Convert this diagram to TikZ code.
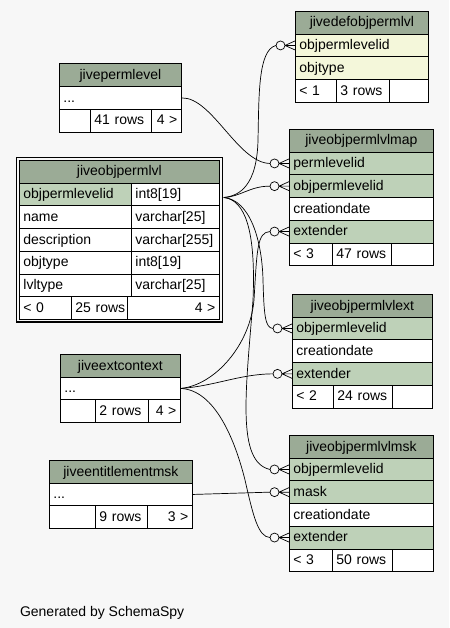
\documentclass[tikz,border=0pt]{standalone}
\usepackage{fontspec}
\setmainfont{Liberation Sans}
\definecolor{bgcol}{HTML}{F7F7F7}
\definecolor{headcol}{HTML}{9BAB96}
\definecolor{keycol}{HTML}{BED1B8}
\definecolor{implcol}{HTML}{F4F7DA}

\tikzset{
    cell/.style={draw, fill=white, line width=0.8pt, anchor=north west,
        inner xsep=4pt, inner ysep=0pt, minimum height=22.7pt,
        text height=10.5pt, text depth=2pt, align=left, text width=#1},
    tblhead/.style={fill=headcol, align=center},
    keyrow/.style={fill=keycol},
    implrow/.style={fill=implcol},
    count/.style={align=right},
    rel/.style={line width=0.7pt},
    crowodot/.pic={
        \draw[line width=0.7pt] (-10,0) -- (0,-4.5) (-10,0) -- (0,0) (-10,0) -- (0,4.5);
        \draw[line width=0.7pt, fill=bgcol] (-14.5,0) circle[radius=4.5pt];
    }
}

\begin{document}
\begin{tikzpicture}[x=1pt, y=-1pt, font=\fontsize{14}{16}\selectfont]
    \fill[bgcol] (0,0) rectangle (449,628);
    \useasboundingbox (0,0) rectangle (449,628);

    % jivedefobjpermlvl
    \node[cell=125pt, tblhead] (def) at (295,11) {jivedefobjpermlvl};
    \node[cell=125pt, implrow] (def-objpermlevelid) at (295,33.7) {objpermlevelid};
    \node[cell=125pt, implrow] (def-objtype) at (295,56.4) {objtype};
    \node[cell=33pt] (def-f1) at (295,79.1) {< 1};
    \node[cell=45pt] (def-f2) at (336,79.1) {3 rows};
    \node[cell=31pt] (def-f3) at (389,79.1) {};

    % jivepermlevel
    \node[cell=114pt, tblhead] (perm) at (59,63.5) {jivepermlevel};
    \node[cell=114pt] (perm-dots) at (59,86.2) {...};
    \node[cell=23pt] (perm-f1) at (59,108.9) {};
    \node[cell=53pt] (perm-f2) at (90,108.9) {41 rows};
    \node[cell=22pt, count] (perm-f3) at (151,108.9) {4 >};

    % jiveobjpermlvl
    \node[cell=192pt, tblhead] (obj) at (19,160) {jiveobjpermlvl};
    \node[cell=104pt, keyrow] (obj-objpermlevelid) at (19,182.7) {objpermlevelid};
    \node[cell=80pt] (obj-objpermlevelid-type) at (131,182.7) {int8[19]};
    \node[cell=104pt] (obj-name) at (19,205.4) {name};
    \node[cell=80pt] (obj-name-type) at (131,205.4) {varchar[25]};
    \node[cell=104pt] (obj-description) at (19,228.1) {description};
    \node[cell=80pt] (obj-description-type) at (131,228.1) {varchar[255]};
    \node[cell=104pt] (obj-objtype) at (19,250.8) {objtype};
    \node[cell=80pt] (obj-objtype-type) at (131,250.8) {int8[19]};
    \node[cell=104pt] (obj-lvltype) at (19,273.5) {lvltype};
    \node[cell=80pt] (obj-lvltype-type) at (131,273.5) {varchar[25]};
    \node[cell=44pt] (obj-f1) at (19,296.2) {< 0};
    \node[cell=52pt, inner xsep=2pt] (obj-f2) at (71,296.2) {\hspace{2pt}25 rows};
    \node[cell=84pt, count] (obj-f3) at (127,296.2) {4 >};
    \draw[line width=1.6pt] ([shift={(-2.5,-2.5)}]obj.north west) rectangle ([shift={(2.5,2.5)}]obj-f3.south east);

    % jiveobjpermlvlmap
    \node[cell=136pt, tblhead] (map) at (289,129) {jiveobjpermlvlmap};
    \node[cell=136pt, keyrow] (map-permlevelid) at (289,151.7) {permlevelid};
    \node[cell=136pt, keyrow] (map-objpermlevelid) at (289,174.4) {objpermlevelid};
    \node[cell=136pt] (map-creationdate) at (289,197.1) {creationdate};
    \node[cell=136pt, keyrow] (map-extender) at (289,219.8) {extender};
    \node[cell=35pt] (map-f1) at (289,242.5) {< 3};
    \node[cell=51pt] (map-f2) at (332,242.5) {47 rows};
    \node[cell=34pt] (map-f3) at (391,242.5) {};

    % jiveobjpermlvlext
    \node[cell=132pt, tblhead] (ext) at (292,294) {jiveobjpermlvlext};
    \node[cell=132pt, keyrow] (ext-objpermlevelid) at (292,316.7) {objpermlevelid};
    \node[cell=132pt] (ext-creationdate) at (292,339.4) {creationdate};
    \node[cell=132pt, keyrow] (ext-extender) at (292,362.1) {extender};
    \node[cell=33pt] (ext-f1) at (292,384.8) {< 2};
    \node[cell=51pt] (ext-f2) at (333,384.8) {24 rows};
    \node[cell=32pt] (ext-f3) at (392,384.8) {};

    % jiveextcontext
    \node[cell=112pt, tblhead] (ctx) at (60,354) {jiveextcontext};
    \node[cell=112pt] (ctx-dots) at (60,376.7) {...};
    \node[cell=27pt] (ctx-f1) at (60,399.4) {};
    \node[cell=45pt] (ctx-f2) at (95,399.4) {2 rows};
    \node[cell=24pt, count] (ctx-f3) at (148,399.4) {4 >};

    % jiveobjpermlvlmsk
    \node[cell=136pt, tblhead] (msk) at (289,435) {jiveobjpermlvlmsk};
    \node[cell=136pt, keyrow] (msk-objpermlevelid) at (289,457.7) {objpermlevelid};
    \node[cell=136pt, keyrow] (msk-mask) at (289,480.4) {mask};
    \node[cell=136pt] (msk-creationdate) at (289,503.1) {creationdate};
    \node[cell=136pt, keyrow] (msk-extender) at (289,525.8) {extender};
    \node[cell=35pt] (msk-f1) at (289,548.5) {< 3};
    \node[cell=52pt] (msk-f2) at (332,548.5) {50 rows};
    \node[cell=33pt] (msk-f3) at (392,548.5) {};

    % jiveentitlementmsk
    \node[cell=135pt, tblhead] (ent) at (49,460) {jiveentitlementmsk};
    \node[cell=135pt] (ent-dots) at (49,482.7) {...};
    \node[cell=38pt] (ent-f1) at (49,505.4) {};
    \node[cell=44pt] (ent-f2) at (95,505.4) {9 rows};
    \node[cell=37pt, count] (ent-f3) at (147,505.4) {3 >};

    % relationships
    \coordinate (obj-port) at ([xshift=4pt, yshift=-3pt]obj-objpermlevelid-type.east);
    \draw[rel] (obj-port) .. controls (240,196) and (257,185) .. (258,140)
        .. controls (259,95) and (258,50) .. ([xshift=-19pt]def-objpermlevelid.west);
    \draw[rel] (obj-port) .. controls (240,197) and (250,186) .. ([xshift=-19pt]map-objpermlevelid.west);
    \draw[rel] (obj-port) .. controls (250,200) and (262,240) .. (263,280)
        .. controls (264,315) and (265,328) .. ([xshift=-19pt]ext-objpermlevelid.west);
    \draw[rel] (obj-port) .. controls (245,200) and (256,230) .. (253,300)
        .. controls (246,390) and (236,462) .. ([xshift=-19pt]msk-objpermlevelid.west);
    \draw[rel] (perm-dots.east) .. controls (212,97) and (238,163) .. ([xshift=-19pt]map-permlevelid.west);
    \draw[rel] (ctx-dots.east) .. controls (215,385) and (250,345) .. (254,300)
        .. controls (257,250) and (257,232) .. ([xshift=-19pt]map-extender.west);
    \draw[rel] (ctx-dots.east) .. controls (215,386) and (240,374) .. ([xshift=-19pt]ext-extender.west);
    \draw[rel] (ctx-dots.east) .. controls (215,390) and (235,440) .. (245,480)
        .. controls (253,515) and (258,537) .. ([xshift=-19pt]msk-extender.west);
    \draw[rel] (ent-dots.east) -- ([xshift=-19pt]msk-mask.west);

    \foreach \r in {def-objpermlevelid, map-permlevelid, map-objpermlevelid, map-extender,
        ext-objpermlevelid, ext-extender, msk-objpermlevelid, msk-mask, msk-extender} {
        \pic at (\r.west) {crowodot};
    }

    \node[anchor=base west] (credit) at (16.5,616) {Generated by SchemaSpy};
\end{tikzpicture}
\end{document}
